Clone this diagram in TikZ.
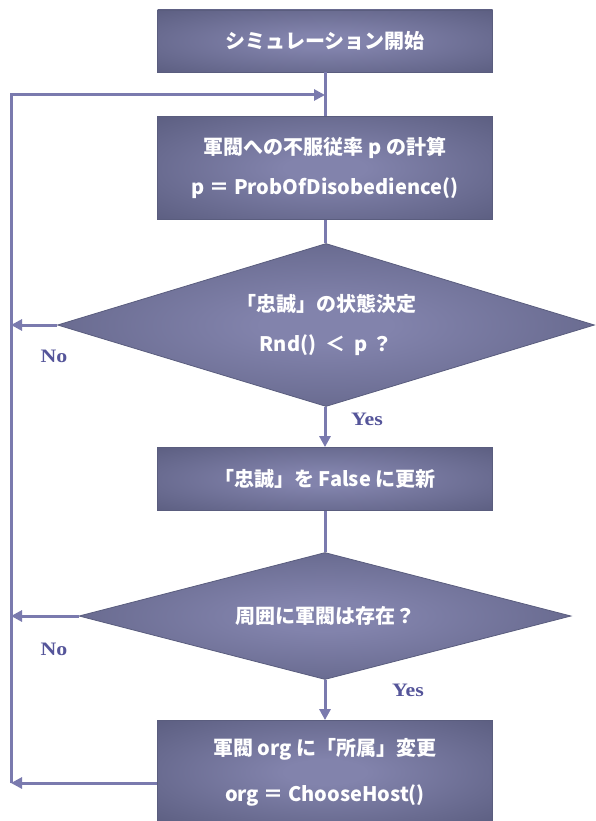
\documentclass[tikz,border=0pt]{standalone}
\usepackage{fontspec}
\setmainfont{Liberation Serif}
\newfontfamily\jp{Noto Sans CJK JP}
\newfontfamily\labfont[FakeStretch=1.15]{Liberation Serif}
\usetikzlibrary{shapes.geometric,arrows.meta}
\definecolor{boxin}{HTML}{8283AC}
\definecolor{boxout}{HTML}{4A4D6D}
\definecolor{boxedge}{HTML}{5A5D7E}
\definecolor{linec}{HTML}{7A7AAE}
\definecolor{labc}{HTML}{55559A}
\pgfdeclareradialshading{flowshade}{\pgfpoint{0bp}{0bp}}{color(0bp)=(boxin); color(6bp)=(boxin); color(50bp)=(boxout)}
\tikzset{
  procbox/.style={rectangle, shading=flowshade, draw=boxedge, line width=0.8pt,
    minimum width=335pt, text=white, font=\jp\bfseries\fontsize{20}{40}\selectfont,
    align=center, inner sep=0pt},
  decbox/.style={diamond, shading=flowshade, draw=boxedge, line width=0.8pt,
    text=white, font=\jp\bfseries\fontsize{20}{40}\selectfont, align=center, inner sep=0pt},
  flow/.style={draw=linec, line width=3pt},
  arr/.style={flow, -{Triangle[length=11pt,width=11pt]}},
  lab/.style={text=labc, font=\labfont\bfseries\fontsize{19}{19}\selectfont, inner sep=0pt}
}
\begin{document}
\begin{tikzpicture}[x=1pt,y=-1pt]
\useasboundingbox (0,0) rectangle (595,821);
\fill[white] (0,0) rectangle (595,821);

\node[procbox, minimum height=62pt] (start) at (325,41) {シミュレーション開始};
\node[procbox, minimum height=103pt] (calc) at (325,168) {軍閥への不服従率 p の計算\\p ＝ ProbOfDisobedience()};
\node[decbox, aspect=3.3, minimum width=537pt, minimum height=163pt] (d1) at (326,325) {「忠誠」の状態決定\\Rnd() \ ＜ \ p ？};
\node[procbox, minimum height=63pt] (upd) at (325,479) {「忠誠」を False に更新};
\node[decbox, aspect=3.87, minimum width=492pt, minimum height=127pt] (d2) at (325,616) {周囲に軍閥は存在？};
\node[procbox, minimum height=103pt, font=\jp\bfseries\fontsize{20}{46}\selectfont] (chg) at (325,772) {軍閥 org に「所属」変更\\org ＝ ChooseHost()};

\coordinate (loopTop) at (11,95);
\coordinate (loopBot) at (11,783);

\draw[flow] (start.south) -- (calc.north);
\draw[flow] (calc.south) -- (d1.north -| calc.south);
\draw[arr] (d1.south -| upd.north) -- (upd.north);
\draw[flow] (upd.south) -- (d2.north);
\draw[arr] (d2.south) -- (chg.north);

\draw[arr] (d1.west) -- (d1.west -| loopTop);
\draw[arr] (d2.west) -- (d2.west -| loopTop);
\draw[arr] (chg.west |- loopBot) -- (loopBot);
\draw[arr, line join=miter] (loopBot) -- (loopTop) -- (loopTop -| calc.north);

\node[lab] (no1) at (54,356) {No};
\node[lab] (yes1) at (367,419) {Yes};
\node[lab] (no2) at (54,649) {No};
\node[lab] (yes2) at (408,690) {Yes};
\end{tikzpicture}
\end{document}
